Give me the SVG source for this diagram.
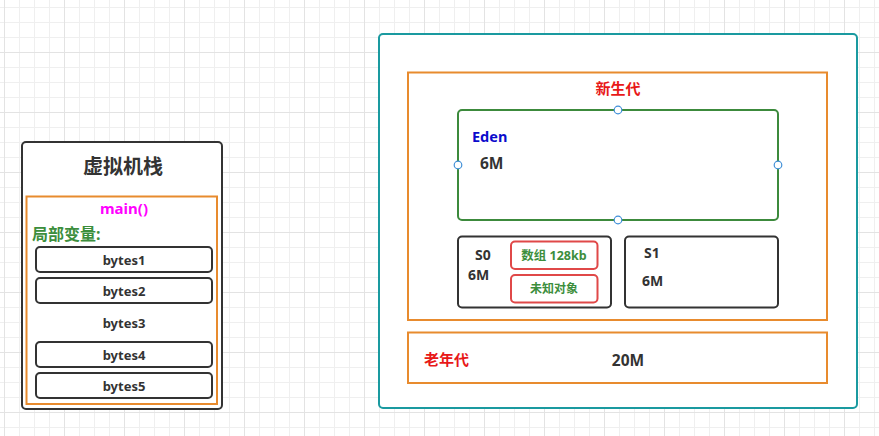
<svg xmlns="http://www.w3.org/2000/svg" width="879" height="436" viewBox="0 0 879 436">
<style>
text{font-family:"Noto Sans","Noto Sans CJK SC",sans-serif;font-weight:bold;}
.dk{fill:#333333;}
.box{fill:#ffffff;stroke:#333333;stroke-width:2;}
.org{fill:#ffffff;stroke:#e88b2e;stroke-width:2;}
.red{fill:#ffffff;stroke:#e04848;stroke-width:2;}
.h{fill:#ffffff;stroke:#3f8fd8;stroke-width:1.2;}
</style>
<defs>
<pattern id="g15" x="4" y="7" width="15" height="15" patternUnits="userSpaceOnUse">
<path d="M0.5 0V15M0 0.5H15" stroke="#efefef" stroke-width="1" fill="none"/>
</pattern>
<pattern id="g60" x="4" y="52" width="60" height="60" patternUnits="userSpaceOnUse">
<path d="M0.5 0V60M0 0.5H60" stroke="#e3e3e3" stroke-width="1" fill="none"/>
</pattern>
</defs>
<rect width="879" height="436" fill="#ffffff"/>
<rect width="879" height="436" fill="url(#g15)"/>
<rect width="879" height="436" fill="url(#g60)"/>

<g id="vm-stack">
<rect class="box" x="22" y="142" width="200" height="267" rx="4"/>
<text class="dk" x="123" y="174" font-size="20" text-anchor="middle">虚拟机栈</text>
</g>
<g id="main-frame">
<rect class="org" x="26.5" y="196.5" width="190.5" height="207.5"/>
<text x="124" y="214" font-size="15" fill="#ff00ff" text-anchor="middle">main()</text>
<text x="32" y="240" font-size="16" fill="#3c8e3c">局部变量:</text>
</g>
<g id="bytes1"><rect class="box" x="36" y="247" width="176" height="25" rx="4"/><text class="dk" x="124" y="265" font-size="13" text-anchor="middle">bytes1</text></g>
<g id="bytes2"><rect class="box" x="36" y="278" width="176" height="25" rx="4"/><text class="dk" x="124" y="296" font-size="13" text-anchor="middle">bytes2</text></g>
<g id="bytes3"><text class="dk" x="124" y="328" font-size="13" text-anchor="middle">bytes3</text></g>
<g id="bytes4"><rect class="box" x="36" y="342" width="176" height="25" rx="4"/><text class="dk" x="124" y="360" font-size="13" text-anchor="middle">bytes4</text></g>
<g id="bytes5"><rect class="box" x="36" y="373" width="176" height="25" rx="4"/><text class="dk" x="124" y="391" font-size="13" text-anchor="middle">bytes5</text></g>

<g id="heap">
<rect x="379" y="34" width="478" height="374" rx="4" fill="#ffffff" stroke="#1a9aa0" stroke-width="2"/>
</g>
<g id="young-gen">
<rect class="org" x="408" y="72.5" width="419" height="247.5"/>
<text x="618" y="94" font-size="15" fill="#e81818" text-anchor="middle">新生代</text>
</g>
<g id="eden">
<rect x="458" y="110" width="320" height="110" rx="4" fill="#ffffff" stroke="#3c8a3c" stroke-width="2"/>
<text x="472" y="142" font-size="14.5" fill="#0b0bcc">Eden</text>
<text class="dk" x="480" y="169" font-size="15.5">6M</text>
<circle class="h" cx="618" cy="110" r="3.8"/>
<circle class="h" cx="618" cy="220" r="3.8"/>
<circle class="h" cx="458" cy="165" r="3.8"/>
<circle class="h" cx="778" cy="165" r="3.8"/>
</g>
<g id="s0">
<rect class="box" x="458" y="236.5" width="153" height="71" rx="4"/>
<text class="dk" x="475" y="260" font-size="14">S0</text>
<text class="dk" x="468" y="280" font-size="14">6M</text>
</g>
<g id="array-128kb">
<rect class="red" x="511" y="241.5" width="86.5" height="27.5" rx="4"/>
<text x="554" y="260" font-size="12.5" fill="#3c8e3c" text-anchor="middle">数组 128kb</text>
</g>
<g id="unknown-object">
<rect class="red" x="511" y="275" width="86.5" height="27.5" rx="4"/>
<text x="554" y="293" font-size="12" fill="#3c8e3c" text-anchor="middle">未知对象</text>
</g>
<g id="s1">
<rect class="box" x="625" y="236.5" width="153" height="71" rx="4"/>
<text class="dk" x="644" y="258" font-size="14">S1</text>
<text class="dk" x="642" y="286" font-size="14">6M</text>
</g>
<g id="old-gen">
<rect class="org" x="408" y="332.5" width="419" height="50.5"/>
<text x="424" y="365" font-size="15" fill="#e81818">老年代</text>
<text class="dk" x="628" y="366" font-size="15.5" text-anchor="middle">20M</text>
</g>
<g id="connectors"></g>
</svg>
